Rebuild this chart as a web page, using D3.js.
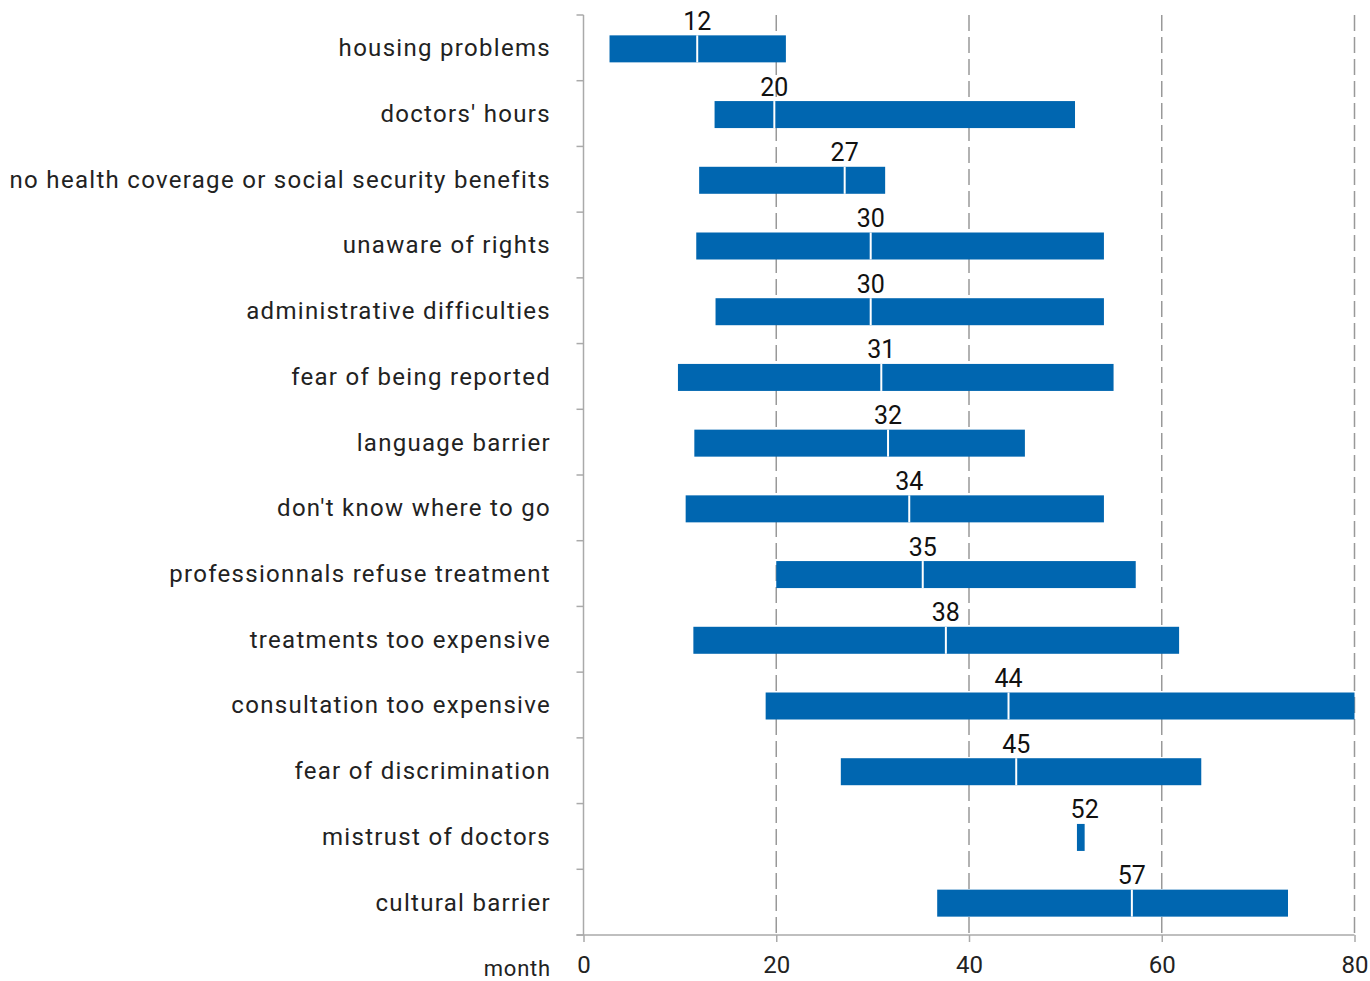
<!DOCTYPE html>
<html>
<head>
<meta charset="utf-8">
<script src="https://cdn.jsdelivr.net/npm/d3@7"></script>
<style>
  body { margin: 0; background: #fff; }
  svg text { font-family: Roboto, "DejaVu Sans", sans-serif; }
</style>
</head>
<body>
<svg id="chart" width="1370" height="981"></svg>
<script>
var categories = ["housing problems", "doctors' hours", "no health coverage or social security benefits",
  "unaware of rights", "administrative difficulties", "fear of being reported", "language barrier",
  "don't know where to go", "professionnals refuse treatment", "treatments too expensive",
  "consultation too expensive", "fear of discrimination", "mistrust of doctors", "cultural barrier"];
var lowValues = [2.7, 13.6, 12.0, 11.7, 13.7, 9.8, 11.5, 10.6, 20.0, 11.4, 18.9, 26.7, 51.2, 36.7];
var medianValues = [12, 20, 27, 30, 30, 31, 32, 34, 35, 38, 44, 45, 52, 57];
var medianPos = [11.8, 19.8, 27.1, 29.8, 29.8, 30.9, 31.6, 33.8, 35.2, 37.6, 44.1, 44.9, 52, 56.9];
var highValues = [21.0, 51.0, 31.3, 54.0, 54.0, 55.0, 45.8, 54.0, 57.3, 61.8, 80.0, 64.1, 52.0, 73.1];
var xTicks = [0, 20, 40, 60, 80];

var data = categories.map(function(c, i) {
  return {cat: c, lo: lowValues[i], med: medianValues[i], pos: medianPos[i], hi: highValues[i]};
});

var svg = d3.select("#chart");
var plotLeft = 583.5, plotRight = 1354.5, plotTop = 15, plotBottom = 935;

var x = d3.scaleLinear().domain([0, 80]).range([plotLeft, plotRight]);
var y = d3.scaleBand().domain(categories).range([plotTop, plotBottom]);

// dashed grid
svg.append("g").selectAll("line")
  .data(xTicks.slice(1))
  .enter().append("line")
  .attr("x1", function(d) { return x(d); })
  .attr("x2", function(d) { return x(d); })
  .attr("y1", plotTop)
  .attr("y2", plotBottom)
  .attr("stroke", "#999")
  .attr("stroke-width", 1.5)
  .attr("stroke-dasharray", "16,6");

// bars
var bars = svg.append("g").selectAll("g")
  .data(data)
  .enter().append("g");

bars.append("rect")
  .attr("x", function(d) { return x(d.lo); })
  .attr("width", function(d) { return x(d.hi) - x(d.lo); })
  .attr("y", function(d) { return y(d.cat) + y.bandwidth() / 2 - 12.5; })
  .attr("height", 27)
  .attr("fill", "#0066b0");

bars.filter(function(d) { return d.hi > d.med; }).append("line")
  .attr("x1", function(d) { return x(d.pos); })
  .attr("x2", function(d) { return x(d.pos); })
  .attr("y1", function(d) { return y(d.cat) + y.bandwidth() / 2 - 12.5; })
  .attr("y2", function(d) { return y(d.cat) + y.bandwidth() / 2 + 14.5; })
  .attr("stroke", "#fff")
  .attr("stroke-width", 2);

bars.append("text")
  .attr("x", function(d) { return x(d.pos); })
  .attr("y", function(d) { return y(d.cat) + y.bandwidth() / 2 - 18; })
  .attr("text-anchor", "middle")
  .style("font-size", "25px")
  .attr("fill", "#111")
  .text(function(d) { return d.med; });

// y axis
var yAxis = svg.append("g")
  .attr("transform", "translate(" + plotLeft + ",0)");
yAxis.append("line")
  .attr("y1", plotTop).attr("y2", plotBottom)
  .attr("stroke", "#aaa").attr("stroke-width", 1.5);
yAxis.selectAll("line.tick")
  .data(categories.concat(["_end"]))
  .enter().append("line")
  .attr("class", "tick")
  .attr("x1", -7).attr("x2", 0)
  .attr("y1", function(d, i) { return i < categories.length ? y(d) : plotBottom; })
  .attr("y2", function(d, i) { return i < categories.length ? y(d) : plotBottom; })
  .attr("stroke", "#aaa").attr("stroke-width", 1.5);

svg.append("g").selectAll("text")
  .data(categories)
  .enter().append("text")
  .attr("x", 551)
  .attr("y", function(d) { return y(d) + y.bandwidth() / 2; })
  .attr("dy", "0.35em")
  .attr("text-anchor", "end")
  .style("font-size", "24px")
  .style("letter-spacing", "1.3px")
  .attr("fill", "#222")
  .text(function(d) { return d; });

// x axis
var xAxis = svg.append("g")
  .attr("transform", "translate(0," + plotBottom + ")")
  .call(d3.axisBottom(x).tickValues(xTicks).tickSize(7).tickPadding(14));
xAxis.select(".domain")
  .attr("d", "M" + (plotLeft - 7) + ",0H" + plotRight)
  .attr("stroke", "#aaa").attr("stroke-width", 1.5);
xAxis.selectAll(".tick line").attr("stroke", "#aaa").attr("stroke-width", 1.5);
xAxis.selectAll(".tick text")
  .style("font-size", "24px")
  .style("font-family", "Roboto, sans-serif")
  .attr("fill", "#222");

svg.append("text")
  .attr("x", 551)
  .attr("y", 976)
  .attr("text-anchor", "end")
  .style("font-size", "22px")
  .style("letter-spacing", "0.8px")
  .attr("fill", "#222")
  .text("month");
</script>
</body>
</html>
